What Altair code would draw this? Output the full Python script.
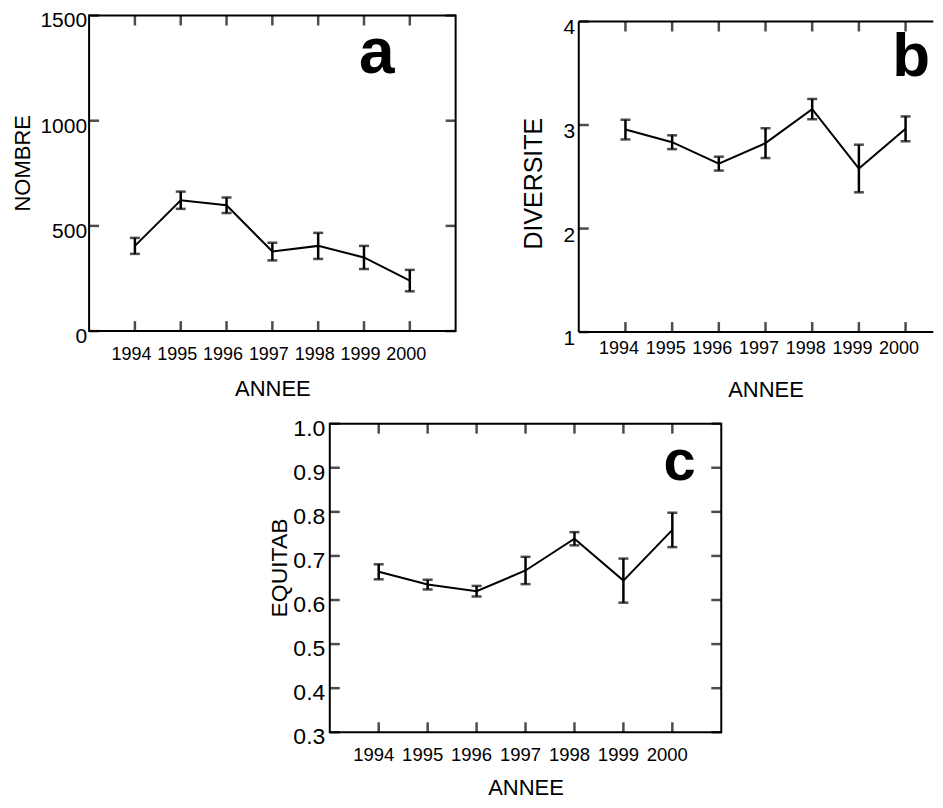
import altair as alt
import pandas as pd

# ---- data ----
years = [1994, 1995, 1996, 1997, 1998, 1999, 2000]

nombre_mean = [405, 622, 598, 378, 405, 350, 240]
nombre_err = [38, 41, 37, 42, 62, 55, 51]

div_mean = [2.956, 2.834, 2.627, 2.825, 3.154, 2.58, 2.963]
div_err = [0.095, 0.067, 0.067, 0.144, 0.098, 0.23, 0.12]

equ_mean = [0.664, 0.635, 0.620, 0.667, 0.739, 0.644, 0.759]
equ_err = [0.017, 0.011, 0.012, 0.031, 0.015, 0.05, 0.039]

nombre_ticks = [0, 500, 1000, 1500]
div_ticks = [1, 2, 3, 4]
equ_ticks = [0.3, 0.4, 0.5, 0.6, 0.7, 0.8, 0.9, 1.0]

FONT = "Liberation Sans"
BLACK = "black"
TICK_LEN = 10


def panel(mean, err, yticks, ydomain, yfmt, ytitle, letter, letter_x, letter_y,
          width, height, ylab_size, ylab_pad, ylab_off, ytitle_size, ytitle_x, ytitle_y,
          xlab_size, xlab_pad, xlab_off, xtitle_y, letter_size,
          xmax=2001, xtitle_x=None, open_right=False):
    df = pd.DataFrame({"year": years, "mean": mean, "err": err})
    df["lo"] = df["mean"] - df["err"]
    df["hi"] = df["mean"] + df["err"]

    xscale = alt.Scale(domain=[1993, xmax], nice=False, zero=False)
    yscale = alt.Scale(domain=ydomain, nice=False, zero=False)

    xaxis_kw = dict(values=years, format="d", title="ANNEE", labelFontSize=xlab_size,
                    labelPadding=xlab_pad, labelOffset=xlab_off, titleFontSize=22,
                    titleY=xtitle_y, titleBaseline="top", titleAlign="center")
    if xtitle_x is not None:
        xaxis_kw["titleX"] = xtitle_x
    xaxis = alt.Axis(**xaxis_kw)
    yaxis = alt.Axis(values=yticks, format=yfmt, title=ytitle, labelFontSize=ylab_size,
                     labelPadding=ylab_pad, labelOffset=ylab_off, labelBaseline="middle",
                     titleFontSize=ytitle_size, titleX=ytitle_x, titleY=ytitle_y,
                     titleAngle=270, titleBaseline="bottom", titleAlign="center")

    line = alt.Chart(df).mark_line(color=BLACK, strokeWidth=2).encode(
        x=alt.X("year:Q", scale=xscale, axis=xaxis),
        y=alt.Y("mean:Q", scale=yscale, axis=yaxis),
    )
    bars = alt.Chart(df).mark_rule(color=BLACK, strokeWidth=2.5).encode(
        x="year:Q", y="lo:Q", y2="hi:Q")
    cap_lo = alt.Chart(df).mark_tick(orient="horizontal", size=10, thickness=2.5,
                                     color=BLACK).encode(x="year:Q", y="lo:Q")
    cap_hi = alt.Chart(df).mark_tick(orient="horizontal", size=10, thickness=2.5,
                                     color=BLACK).encode(x="year:Q", y="hi:Q")

    # inward frame ticks
    xt = pd.DataFrame({"year": years})
    yt = pd.DataFrame({"v": yticks})
    h = TICK_LEN / 2
    tick_style = dict(size=TICK_LEN, thickness=2.5, color=BLACK)
    top_t = alt.Chart(xt).mark_tick(orient="vertical", **tick_style).encode(
        x="year:Q", y=alt.value(h))
    bot_t = alt.Chart(xt).mark_tick(orient="vertical", **tick_style).encode(
        x="year:Q", y=alt.value(height - h))
    left_t = alt.Chart(yt).mark_tick(orient="horizontal", **tick_style).encode(
        y="v:Q", x=alt.value(h))
    layers = [line, bars, cap_lo, cap_hi, top_t, bot_t, left_t]
    if not open_right:
        right_t = alt.Chart(yt).mark_tick(orient="horizontal", **tick_style).encode(
            y="v:Q", x=alt.value(width - h))
        layers.append(right_t)

    lab = alt.Chart(pd.DataFrame({"x": [letter_x], "y": [letter_y], "t": [letter]})).mark_text(
        font=FONT, fontWeight="bold", fontSize=letter_size, baseline="alphabetic",
        align="center", color=BLACK).encode(x="x:Q", y="y:Q", text="t:N")
    layers.append(lab)

    props = dict(width=width, height=height)
    if open_right:
        # frame on three sides only: the panel runs off the right edge of the page
        one = pd.DataFrame({"k": [0]})
        fr = dict(color=BLACK, strokeWidth=2)
        layers.append(alt.Chart(one).mark_rule(**fr).encode(
            x=alt.value(0), y=alt.value(0), y2=alt.value(height)))
        layers.append(alt.Chart(one).mark_rule(**fr).encode(
            x=alt.value(0), x2=alt.value(width), y=alt.value(0)))
        layers.append(alt.Chart(one).mark_rule(**fr).encode(
            x=alt.value(0), x2=alt.value(width), y=alt.value(height)))
        props["view"] = alt.ViewBackground(stroke="transparent", strokeWidth=0)

    return alt.layer(*layers).properties(**props)


def spacer(w, hgt):
    return alt.Chart(pd.DataFrame({"k": [0]})).mark_rule(strokeWidth=0, opacity=0).encode(
        x=alt.value(0), y=alt.value(0), y2=alt.value(0)
    ).properties(width=w, height=hgt,
                 view=alt.ViewBackground(stroke="transparent", strokeWidth=0))


pa = panel(nombre_mean, nombre_err, nombre_ticks, [0, 1500], "d", "NOMBRE", "a", 1999.28, 1225,
           width=367, height=316, ylab_size=21, ylab_pad=2.5, ylab_off=5.5, ytitle_size=22,
           ytitle_x=-54.8, ytitle_y=147.5, xlab_size=18, xlab_pad=14.5, xlab_off=-4,
           xtitle_y=47.3, letter_size=64)

pb = panel(div_mean, div_err, div_ticks, [1, 4], "d", "DIVERSITE", "b", 2000.12, 3.473,
           width=355, height=311, ylab_size=21, ylab_pad=4, ylab_off=6.5, ytitle_size=25,
           ytitle_x=-32.7, ytitle_y=161.9, xlab_size=18, xlab_pad=7.5, xlab_off=-7,
           xtitle_y=47.5, letter_size=62, xmax=2000.594, xtitle_x=187, open_right=True)

pc = panel(equ_mean, equ_err, equ_ticks, [0.3, 1.0], ".1f", "EQUITAB", "c", 2000.15, 0.872,
           width=392, height=309, ylab_size=23, ylab_pad=5, ylab_off=4.7, ytitle_size=23,
           ytitle_x=-38.6, ytitle_y=144, xlab_size=18.5, xlab_pad=13, xlab_off=-5.5,
           xtitle_y=45.5, letter_size=58)

top_row = alt.hconcat(pa, alt.vconcat(spacer(1, 0.5), pb, spacing=0), spacing=64.3)
bottom_row = alt.hconcat(spacer(177.7, 0.5), pc, spacing=0)

chart = alt.vconcat(top_row, bottom_row, spacing=14.7).properties(
    padding={"left": 2.2, "top": 0, "right": 0, "bottom": 0},
    background="white",
).configure_view(
    stroke=BLACK, strokeWidth=2,
).configure_axis(
    grid=False, domain=False, ticks=False, tickSize=0,
    labelColor=BLACK, titleColor=BLACK, labelFont=FONT, titleFont=FONT,
    titleFontWeight="normal", labelOverlap=False, labelFlush=False,
)

chart.save("out.html", embed_options={"renderer": "svg", "actions": False})
